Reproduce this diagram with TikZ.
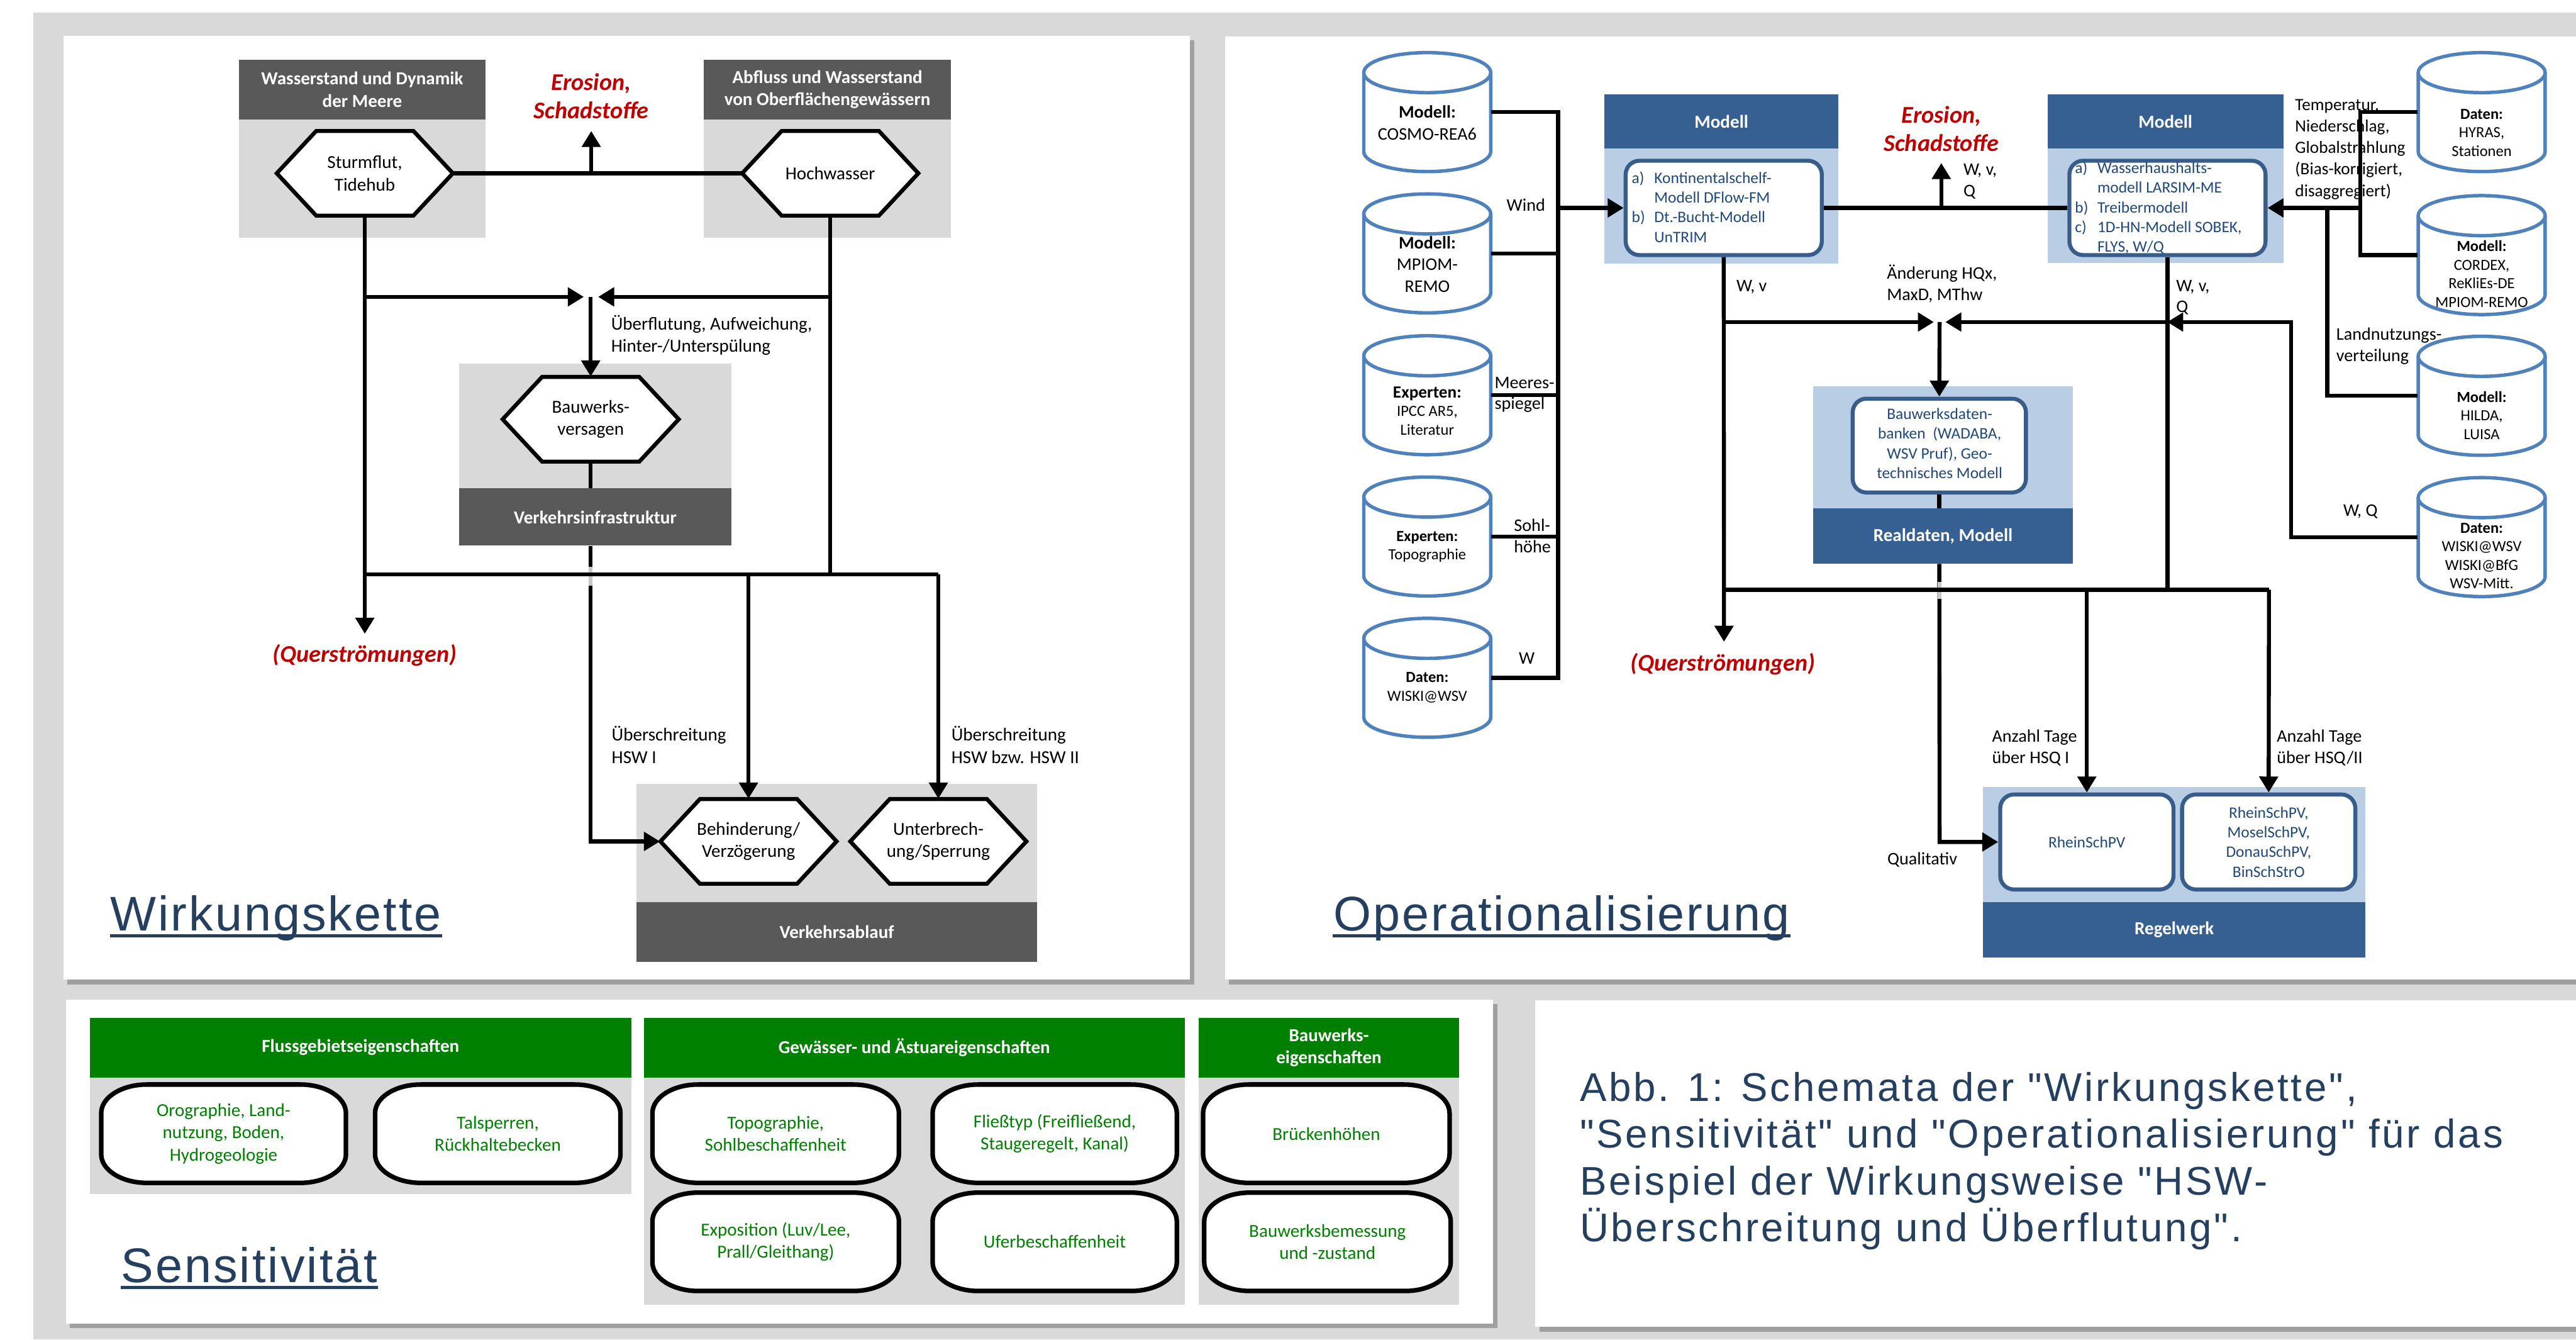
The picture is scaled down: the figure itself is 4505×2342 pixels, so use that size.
\documentclass[tikz,border=0pt]{standalone}
\usepackage{fontspec}
\setmainfont{Carlito}
\newfontfamily\titlefont[LetterSpace=4]{Liberation Sans}
\newfontfamily\captfont[LetterSpace=6]{Liberation Sans}
\usetikzlibrary{arrows.meta}
\definecolor{bggray}{HTML}{D9D9D9}
\definecolor{dgray}{HTML}{595959}
\definecolor{lgray}{HTML}{D9D9D9}
\definecolor{dblue}{HTML}{376092}
\definecolor{lblue}{HTML}{B9CDE5}
\definecolor{bborder}{HTML}{385D8A}
\definecolor{btext}{HTML}{1F497D}
\definecolor{cylblue}{HTML}{4F81BD}
\definecolor{ered}{HTML}{C00000}
\definecolor{sgreen}{HTML}{008000}
\definecolor{tblue}{HTML}{243F60}
\definecolor{gapgray}{HTML}{C8C8C8}
\definecolor{shadowgray}{HTML}{A0A0A0}
\newcommand\myfA{\fontsize{8}{9.75}\selectfont}
\newcommand\myfB{\fontsize{7.75}{9.3}\selectfont}
\newcommand\myfC{\fontsize{7}{8.6}\selectfont}
\newcommand\myfD{\fontsize{6.75}{8.1}\selectfont}
\newcommand\myfE{\fontsize{7.75}{9.5}\selectfont}
\newcommand\mybox[6]{\node[#1, minimum width={(#4-#2)*0.25pt}, minimum height={(#5-#3)*0.25pt}] (#6) at ({(#2+#4)/2},{-(#3+#5)/2})}
\newcommand\myhex[4]{%
 \draw[hexs] ({#2-154},{-#3}) -- ({#2-85},{-#3+74}) -- ({#2+85},{-#3+74}) -- ({#2+154},{-#3}) -- ({#2+85},{-#3-74}) -- ({#2-85},{-#3-74}) -- cycle;
 \node[minimum width=77pt, minimum height=37pt, align=center, font=\myfA] (#1) at (#2,-#3) {#4};}
\newcommand\mycyl[6]{%
 \draw[cyls] ({#2-111},{-#3+69}) -- ({#2-111},{-#3-69}) arc[start angle=180,end angle=360,x radius=111,y radius=35] -- ({#2+111},{-#3+69}) arc[start angle=0,end angle=180,x radius=111,y radius=35] -- cycle;
 \draw[cyls,fill=none] ({#2-111},{-#3+69}) arc[start angle=180,end angle=360,x radius=111,y radius=35];
 \node[minimum width=55.5pt, minimum height=52.25pt] (#1) at (#2,-#3) {};
 \node[align=center, font=#5] (#1t) at (#2,-#4) {#6};}
\newcommand\mycaps[6]{%
 \draw[capss] ({#2+80},{-#3}) -- ({#4-80},{-#3}) arc[start angle=90,end angle=0,x radius=80,y radius=50] -- ({#4},{-#5+50}) arc[start angle=0,end angle=-90,x radius=80,y radius=50] -- ({#2+80},{-#5}) arc[start angle=270,end angle=180,x radius=80,y radius=50] -- ({#2},{-#3-50}) arc[start angle=180,end angle=90,x radius=80,y radius=50] -- cycle;
 \node[captext, minimum width={(#4-#2)*0.25pt}, minimum height={(#5-#3)*0.25pt}] (#1) at ({(#2+#4)/2},{-(#3+#5)/2}) {#6};}
\tikzset{
 conn/.style={line width=1.75pt},
 arr/.style={line width=1.75pt, -{Triangle[length=7pt,width=8pt]}},
 hexs/.style={draw=black, line width=1.75pt, fill=white, line join=miter},
 cyls/.style={draw=cylblue, line width=1.5pt, fill=white},
 lightbox/.style={fill=lgray},
 lbluebox/.style={fill=lblue},
 darkhdr/.style={fill=dgray, text=white, align=center, font=\myfA\bfseries},
 bluehdr/.style={fill=dblue, text=white, align=center, font=\myfA\bfseries},
 ibox/.style={draw=bborder, line width=1.75pt, fill=white, rounded corners=6pt, text=btext, align=center, font=\myfC},
 itext/.style={text=btext, align=center, font=\myfC},
 rlabel/.style={text=ered, align=center, font=\fontsize{10.5}{12.5}\selectfont\bfseries\itshape},
 lbl/.style={align=left, font=\myfA},
 olbl/.style={align=left, font=\myfB},
 ghdr/.style={fill=sgreen, text=white, align=center, font=\myfA\bfseries},
 capss/.style={draw=black, line width=2pt, fill=white},
 captext/.style={text=sgreen, align=center, font=\myfA},
 titlenode/.style={text=tblue, font=\titlefont\fontsize{21.25}{25}\selectfont},
 captnode/.style={text=tblue, align=left, font=\captfont\fontsize{17.5}{20.5}\selectfont},
 gapl/.style={line width=1.75pt, draw=gapgray},
 shad/.style={fill=shadowgray},
}
\begin{document}
\begin{tikzpicture}[x=0.25pt, y=0.25pt, every node/.style={inner sep=0pt, font=\myfA}]
\useasboundingbox (0,0) rectangle (4505,-2342);
\fill[white] (0,0) rectangle (4505,-2342);
\fill[bggray] (58,-22) rectangle (4505,-2342);
% panel shadows
\fill[shad] (118,-70) rectangle (2089,-1721);
\fill[shad] (2149,-71) rectangle (4505,-1721);
\fill[shad] (122,-1755) rectangle (2619,-2322);
\fill[shad] (2692,-1756) rectangle (4505,-2328);
% panels
\fill[white] (111,-63) rectangle (2081,-1713);
\fill[white] (2142,-64) rectangle (4505,-1713);
\fill[white] (115,-1748) rectangle (2611,-2314);
\fill[white] (2685,-1749) rectangle (4505,-2320);

%================ Wirkungskette
\mybox{lightbox}{418}{209}{849}{416}{g1} {};
\mybox{darkhdr}{418}{104}{849}{209}{h1} {Wasserstand und Dynamik\\der Meere};
\mybox{lightbox}{1231}{209}{1663}{416}{g2} {};
\mybox{darkhdr}{1231}{104}{1663}{209}{h2} {Abfluss und Wasserstand\\von Oberflächengewässern};
\mybox{lightbox}{803}{636}{1279}{854}{g3} {};
\mybox{darkhdr}{803}{854}{1279}{954}{h3} {Verkehrsinfrastruktur};
\mybox{lightbox}{1113}{1370}{1814}{1577}{g4} {};
\mybox{darkhdr}{1113}{1577}{1814}{1682}{h4} {Verkehrsablauf};

\myhex{sturm}{638}{303}{Sturmflut,\\Tidehub}
\myhex{hoch}{1452}{303}{Hochwasser}
\myhex{bauw}{1033}{733}{Bauwerks-\\versagen}
\myhex{beh}{1309}{1471}{Behinderung/\\Verzögerung}
\myhex{unt}{1641}{1471}{Unterbrech-\\ung/Sperrung}

\coordinate (ej1) at (1034,-303);
\coordinate (eros1) at (1034,-229);
\coordinate (q1) at (638,-1108);
\coordinate (jl1) at (638,-519);
\coordinate (jr1) at (1452,-519);
\coordinate (jm1) at (1033,-519);
\coordinate (jm1l) at (1021,-519);
\coordinate (jm1r) at (1046,-519);
\coordinate (hb1) at (1452,-1004);
\coordinate (hl2) at (638,-1004);
\coordinate (hr2) at (1641,-1004);
\coordinate (bk) at (1033,-1471);

\draw[conn] (sturm.east) -- (hoch.west);
\draw[arr] (ej1) -- (eros1);
\draw[arr] (sturm.south) -- (q1);
\draw[conn] (hoch.south) -- (hb1);
\draw[arr] (jl1) -- (jm1l);
\draw[arr] (jr1) -- (jm1r);
\draw[arr] (jm1) -- (bauw.north);
\draw[conn] (bauw.south) -- (bauw.south |- h3.north);
\draw[arr] (bauw.south |- h3.south) -- (bk) -- (beh.west);
\draw[gapl] (1033,-991) -- (1033,-1024);
\draw[conn] (hl2) -- (hr2);
\draw[arr] (beh.north |- hl2) -- (beh.north);
\draw[arr] (hr2) -- (unt.north);

\node[rlabel] (erosL1) at (1034,-168) {Erosion,\\Schadstoffe};
\node[rlabel] (querL1) at (638,-1146) {(Querströmungen)};
\node[lbl, anchor=west] (l1) at (1068,-586) {Überflutung, Aufweichung,\\Hinter-/Unterspülung};
\node[lbl, anchor=west] (l2) at (1069,-1302) {Überschreitung\\HSW I};
\node[lbl, anchor=west] (l3) at (1663,-1302) {Überschreitung\\HSW bzw. HSW II};
\node[titlenode, anchor=base west] (t1) at (192,-1627) {Wirkungskette};
\draw[tblue, line width=1.25pt] ([yshift=-2.2pt]t1.base west) -- ([yshift=-2.2pt]t1.base east);

%================ Operationalisierung
\mybox{lbluebox}{2806}{260}{3215}{461}{m1b} {};
\mybox{bluehdr}{2806}{165}{3215}{260}{m1h} {Modell};
\mybox{ibox}{2843}{281}{3186}{446}{m1in} {};
\node[itext, anchor=west] (m1t) at (2853,-365) {\begin{tabular}{@{}l@{\hspace{4pt}}l@{}}a) & Kontinentalschelf-\\ & Modell DFlow-FM\\ b) & Dt.-Bucht-Modell\\ & UnTRIM\end{tabular}};

\mybox{lbluebox}{3581}{260}{3993}{460}{m2b} {};
\mybox{bluehdr}{3581}{165}{3993}{260}{m2h} {Modell};
\mybox{ibox}{3619}{281}{3962}{446}{m2in} {};
\node[itext, anchor=west] (m2t) at (3628,-365) {\begin{tabular}{@{}l@{\hspace{4pt}}l@{}}a) & Wasserhaushalts-\\ & modell LARSIM-ME\\ b) & Treibermodell\\ c) & 1D-HN-Modell SOBEK,\\ & FLYS, W/Q\end{tabular}};

\mybox{lbluebox}{3171}{675}{3625}{889}{rdb} {};
\mybox{bluehdr}{3171}{889}{3625}{985}{rdh} {Realdaten, Modell};
\mybox{ibox}{3240}{697}{3543}{861}{rdin} {};
\node[itext] (rdt) at (3392,-775) {Bauwerksdaten-\\banken~ (WADABA,\\WSV Pruf), Geo-\\technisches Modell};

\mybox{lbluebox}{3468}{1376}{4137}{1577}{rgb} {};
\mybox{bluehdr}{3468}{1577}{4137}{1674}{rgh} {Regelwerk};
\mybox{ibox}{3498}{1389}{3801}{1555}{rg1} {RheinSchPV};
\mybox{ibox}{3816}{1389}{4119}{1555}{rg2} {RheinSchPV,\\MoselSchPV,\\DonauSchPV,\\BinSchStrO};

\mycyl{c1}{2496}{196}{215}{\myfE}{\textbf{Modell:}\\COSMO-REA6}
\mycyl{c2}{2496}{443}{462}{\myfE}{\textbf{Modell:}\\MPIOM-\\REMO}
\mycyl{c3}{2496}{691}{718}{\myfD}{{\fontsize{7.5}{8.1}\selectfont\textbf{Experten:}}\\IPCC AR5,\\Literatur}
\mycyl{c4}{2496}{938}{956}{\myfD}{\textbf{Experten:}\\Topographie}
\mycyl{c5}{2496}{1185}{1202}{\myfD}{\textbf{Daten:}\\WISKI@WSV}

\mycyl{r1}{4340}{196}{232}{\myfD}{\textbf{Daten:}\\HYRAS,\\Stationen}
\mycyl{r2}{4340}{446}{479}{\myfD}{\textbf{Modell:}\\CORDEX,\\ReKliEs-DE\\MPIOM-REMO}
\mycyl{r3}{4340}{692}{726}{\myfD}{\textbf{Modell:}\\HILDA,\\LUISA}
\mycyl{r4}{4340}{939}{972}{\myfD}{\textbf{Daten:}\\WISKI@WSV\\WISKI@BfG\\WSV-Mitt.}

\node[olbl, anchor=west, font=\fontsize{7.5}{9.4}\selectfont] (temp) at (4013,-261) {Temperatur,\\Niederschlag,\\Globalstrahlung\\(Bias-korrigiert,\\disaggregiert)};

\coordinate (lbus) at (2725,0);
\coordinate (rbus) at (4128,0);
\coordinate (rbus2) at (4070,0);
\coordinate (wqc) at (4007,-563);
\coordinate (jr2) at (3790,-563);
\coordinate (jl2) at (3015,-563);
\coordinate (jm2) at (3392,-563);
\coordinate (jm2l) at (3382,-563);
\coordinate (jm2r) at (3402,-563);
\coordinate (ej2) at (3395,-363.5);
\coordinate (eros2) at (3395,-285);
\coordinate (q2) at (3015,-1122);
\coordinate (hb2l) at (3015,-1031);
\coordinate (hb2r) at (3968,-1031);
\coordinate (qk) at (3392,-1472);

\draw[conn] (c1.east) -| (lbus |- c5.east) -- (c5.east);
\draw[conn] (c2.east) -- (c2.east -| lbus);
\draw[conn] (c3.east) -- (c3.east -| lbus);
\draw[conn] (c4.east) -- (c4.east -| lbus);
\draw[arr] (lbus |- m1in.west) -- (m1in.west);

\draw[conn] (m1in.east) -- (m2in.west);
\draw[arr] (ej2) -- (eros2);

\draw[conn] (r1.west) -| (rbus |- r2.west) -- (r2.west);
\draw[arr] (rbus |- m2in.east) -- (m2in.east);
\draw[conn] (rbus2 |- m2in.east) |- (r3.west);
\draw[arr] (r4.west) -| (wqc) -- (jr2);
\draw[arr] (jr2) -- (jm2r);
\draw[arr] (jl2) -- (jm2l);
\draw[arr] (jm2) -- (rdin.north);

\draw[arr] (m1in.south) -- (q2);
\draw[conn] (m2in.south) -- (m2in.south |- hb2l);
\draw[conn] (rdin.south) -- (rdin.south |- rdh.north);
\draw[arr] (rdin.south |- rdh.south) -- (qk) -- (rg1.west);
\draw[gapl] (3392,-1017) -- (3392,-1047);
\draw[conn] (hb2l) -- (hb2r);
\draw[arr] (rg1.north |- hb2l) -- (rg1.north);
\draw[arr] (hb2r) -- (rg2.north);

\node[olbl, anchor=east] (wind) at (2703,-358) {Wind};
\node[olbl, anchor=west] (meer) at (2613,-690) {Meeres-\\spiegel};
\node[olbl, anchor=west] (sohl) at (2647,-937) {Sohl-\\höhe};
\node[olbl] (wl) at (2670,-1151) {W};
\node[rlabel] (erosL2) at (3395,-225) {Erosion,\\Schadstoffe};
\node[olbl, anchor=west] (wvq) at (3433,-317) {W, v,\\Q};
\node[olbl, anchor=west] (land) at (4085,-605) {Landnutzungs-\\verteilung};
\node[olbl] (wq) at (4128,-894) {W, Q};
\node[olbl, anchor=west] (wv1) at (3036,-502) {W, v};
\node[olbl, anchor=west] (wv2) at (3805,-520) {W, v,\\Q};
\node[olbl, anchor=west] (aend) at (3299,-496) {Änderung HQx,\\MaxD, MThw};
\node[rlabel] (querL2) at (3013,-1161) {(Querströmungen)};
\node[olbl, anchor=west] (az1) at (3483,-1307) {Anzahl Tage\\über HSQ I};
\node[olbl, anchor=west] (az2) at (3981,-1307) {Anzahl Tage\\über HSQ/II};
\node[olbl, anchor=west] (qual) at (3300,-1503) {Qualitativ};
\node[titlenode, anchor=base west] (t2) at (2331,-1627) {Operationalisierung};
\draw[tblue, line width=1.25pt] ([yshift=-2.2pt]t2.base west) -- ([yshift=-2.2pt]t2.base east);

%================ Sensitivitaet
\mybox{lightbox}{157}{1884}{1104}{2088}{s1b} {};
\mybox{ghdr}{157}{1779}{1104}{1884}{s1} {Flussgebietseigenschaften};
\mybox{lightbox}{1126}{1884}{2072}{2281}{s2b} {};
\mybox{ghdr}{1126}{1779}{2072}{1884}{s2} {Gewässer- und Ästuareigenschaften};
\mybox{lightbox}{2096}{1884}{2552}{2281}{s3b} {};
\mybox{ghdr}{2096}{1779}{2552}{1884}{s3} {Bauwerks-\\eigenschaften};

\mycaps{k1}{177}{1896}{605}{2068}{Orographie, Land-\\nutzung, Boden,\\Hydrogeologie}
\mycaps{k2}{656}{1896}{1085}{2068}{Talsperren,\\Rückhaltebecken}
\mycaps{k3}{1141}{1896}{1572}{2068}{Topographie,\\Sohlbeschaffenheit}
\mycaps{k4}{1631}{1896}{2058}{2068}{Fließtyp (Freifließend,\\Staugeregelt, Kanal)}
\mycaps{k5}{2104}{1896}{2535}{2068}{Brückenhöhen}
\mycaps{k6}{1141}{2085}{1572}{2257}{Exposition (Luv/Lee,\\Prall/Gleithang)}
\mycaps{k7}{1631}{2085}{2058}{2257}{Uferbeschaffenheit}
\mycaps{k8}{2106}{2085}{2537}{2257}{Bauwerksbemessung\\und -zustand}

\node[titlenode, anchor=base west] (t3) at (211,-2242) {Sensitivität};
\draw[tblue, line width=1.25pt] ([yshift=-2.2pt]t3.base west) -- ([yshift=-2.2pt]t3.base east);

%================ Caption
\node[captnode, anchor=base west] (cap) at (2762,-2171) {Abb. 1: Schemata der "Wirkungskette",\\"Sensitivität" und "Operationalisierung" für das\\Beispiel der Wirkungsweise "HSW-\\Überschreitung und Überflutung".};
\end{tikzpicture}
\end{document}
